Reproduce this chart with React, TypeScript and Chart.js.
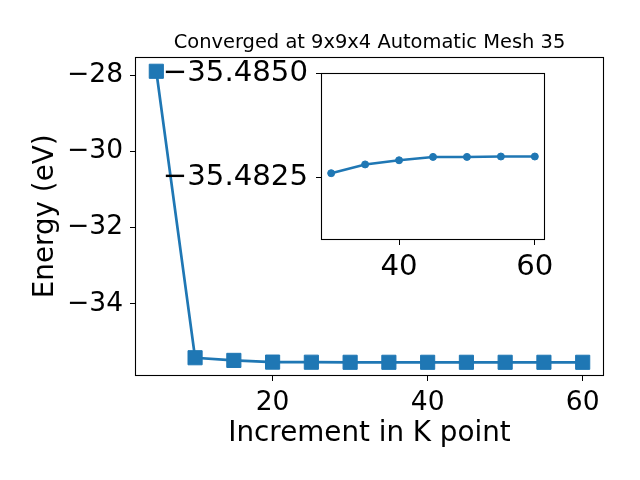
import React, { useEffect, useRef } from 'react';
import { Chart, registerables } from 'chart.js';

Chart.register(...registerables);

// ---- data ----
const kPoints = [5, 10, 15, 20, 25, 30, 35, 40, 45, 50, 55, 60];
const energies = [-27.895, -35.42, -35.49, -35.535, -35.538, -35.54, -35.54, -35.54, -35.54, -35.54, -35.54, -35.54];
const insetKPoints = [30, 35, 40, 45, 50, 55, 60];
const insetEnergies = [-35.4826, -35.48281, -35.48291, -35.48299, -35.48299, -35.483, -35.483];
const mainXTicks = [20, 40, 60];
const mainYTicks = [-34, -32, -30, -28];
const insetXTicks = [40, 60];
const insetYTicks = [-35.485, -35.4825];
const titleText = 'Converged at 9x9x4 Automatic Mesh 35';
const xLabel = 'Increment in K point';
const yLabel = 'Energy (eV)';

const BLUE = '#1f77b4';
const FONT = 'DejaVu Sans';
const LABEL_SIZE = 27.78;
const MAIN_TICK_SIZE = 26.5;
const INSET_TICK_SIZE = 29.2;

const minus = (s: string) => s.replace('-', '\u2212');

const framePlugin = {
  id: 'frame',
  beforeDraw(chart: any, _args: any, opts: any) {
    if (opts && opts.fill) {
      const { left, top, right, bottom } = chart.chartArea;
      const ctx = chart.ctx;
      ctx.save();
      ctx.fillStyle = '#ffffff';
      ctx.fillRect(left, top, right - left, bottom - top);
      ctx.restore();
    }
  },
  afterDraw(chart: any) {
    const { left, top, right, bottom } = chart.chartArea;
    const ctx = chart.ctx;
    ctx.save();
    ctx.strokeStyle = '#000000';
    ctx.lineWidth = 1.1;
    const l = Math.round(left) + 0.5;
    const t = Math.round(top) + 0.5;
    const r = Math.round(right) - 0.5;
    const b = Math.round(bottom) - 0.5;
    ctx.strokeRect(l, t, r - l, b - t);
    ctx.restore();
  },
};

function tickGrid() {
  return {
    display: true,
    drawOnChartArea: false,
    drawTicks: true,
    tickLength: 5,
    color: '#000000',
    lineWidth: 1,
  };
}

export default function App() {
  const mainRef = useRef<HTMLCanvasElement | null>(null);
  const insetRef = useRef<HTMLCanvasElement | null>(null);

  useEffect(() => {
    const mainChart = new Chart(mainRef.current as HTMLCanvasElement, {
      type: 'line',
      data: {
        datasets: [
          {
            data: kPoints.map((k, i) => ({ x: k, y: energies[i] })),
            borderColor: BLUE,
            backgroundColor: BLUE,
            borderWidth: 2.7,
            pointStyle: 'rect',
            pointRadius: 10,
            pointBorderWidth: 1,
            pointBorderColor: BLUE,
            pointBackgroundColor: BLUE,
            tension: 0,
          },
        ],
      },
      options: {
        responsive: false,
        animation: false,
        devicePixelRatio: 1,
        events: [],
        layout: { padding: { left: 0, right: 36, top: 0, bottom: 0 } },
        plugins: {
          legend: { display: false },
          tooltip: { enabled: false },
          title: {
            display: true,
            fullSize: false,
            text: titleText,
            color: '#000000',
            font: { family: FONT, size: 19.44, weight: 'normal', lineHeight: 1.2 },
            padding: { top: 31, bottom: 2.3 },
          },
          frame: {},
        } as any,
        scales: {
          x: {
            type: 'linear',
            min: 2.25,
            max: 62.75,
            border: { display: false },
            grid: tickGrid() as any,
            afterBuildTicks: (s: any) => {
              s.ticks = mainXTicks.map((v) => ({ value: v }));
            },
            afterFit: (s: any) => {
              s.height = 104;
            },
            ticks: {
              color: '#000000',
              padding: 6,
              maxRotation: 0,
              font: { family: FONT, size: MAIN_TICK_SIZE },
              callback: (v: any) => minus(String(v)),
            },
            title: {
              display: true,
              text: xLabel,
              color: '#000000',
              font: { family: FONT, size: LABEL_SIZE, lineHeight: 1.2 },
              padding: { top: 0, bottom: 30 },
            },
          },
          y: {
            type: 'linear',
            min: -35.9,
            max: -27.51,
            border: { display: false },
            grid: tickGrid() as any,
            afterBuildTicks: (s: any) => {
              s.ticks = mainYTicks.map((v) => ({ value: v }));
            },
            afterFit: (s: any) => {
              s.width = 135;
            },
            ticks: {
              color: '#000000',
              padding: 7,
              font: { family: FONT, size: MAIN_TICK_SIZE },
              callback: (v: any) => minus(String(v)),
            },
            title: {
              display: true,
              text: yLabel,
              color: '#000000',
              font: { family: FONT, size: LABEL_SIZE, lineHeight: 1.2 },
              padding: { top: 28.7, bottom: 0 },
            },
          },
        },
      },
      plugins: [framePlugin as any],
    });

    const insetChart = new Chart(insetRef.current as HTMLCanvasElement, {
      type: 'line',
      data: {
        datasets: [
          {
            data: insetKPoints.map((k, i) => ({ x: k, y: insetEnergies[i] })),
            borderColor: BLUE,
            backgroundColor: BLUE,
            borderWidth: 2.5,
            pointStyle: 'circle',
            pointRadius: 3.5,
            pointBorderWidth: 1,
            pointBorderColor: BLUE,
            pointBackgroundColor: BLUE,
            tension: 0,
          },
        ],
      },
      options: {
        responsive: false,
        animation: false,
        devicePixelRatio: 1,
        events: [],
        layout: { padding: { left: 0, right: 35, top: 33, bottom: 0 } },
        plugins: {
          legend: { display: false },
          tooltip: { enabled: false },
          title: { display: false },
          frame: { fill: true },
        } as any,
        scales: {
          x: {
            type: 'linear',
            min: 28.5,
            max: 61.5,
            border: { display: false },
            grid: tickGrid() as any,
            afterBuildTicks: (s: any) => {
              s.ticks = insetXTicks.map((v) => ({ value: v }));
            },
            afterFit: (s: any) => {
              s.height = 60;
            },
            ticks: {
              color: '#000000',
              padding: 5,
              maxRotation: 0,
              font: { family: FONT, size: INSET_TICK_SIZE },
              callback: (v: any) => minus(String(v)),
            },
          },
          y: {
            type: 'linear',
            min: -35.485,
            max: -35.481,
            reverse: true,
            border: { display: false },
            grid: tickGrid() as any,
            afterBuildTicks: (s: any) => {
              s.ticks = insetYTicks.map((v) => ({ value: v }));
            },
            afterFit: (s: any) => {
              s.width = 181;
            },
            ticks: {
              color: '#000000',
              padding: 8,
              font: { family: FONT, size: INSET_TICK_SIZE },
              callback: (v: any) => minus(Number(v).toFixed(4)),
            },
          },
        },
      },
      plugins: [framePlugin as any],
    });

    return () => {
      mainChart.destroy();
      insetChart.destroy();
    };
  }, []);

  return (
    <div style={{ position: 'fixed', left: 0, top: 0, width: 640, height: 480, background: '#ffffff' }}>
      <canvas
        ref={mainRef}
        width={640}
        height={480}
        style={{ position: 'absolute', left: 0, top: 0, width: 640, height: 480 }}
      />
      <canvas
        ref={insetRef}
        width={440}
        height={260}
        style={{ position: 'absolute', left: 140, top: 40, width: 440, height: 260 }}
      />
    </div>
  );
}
